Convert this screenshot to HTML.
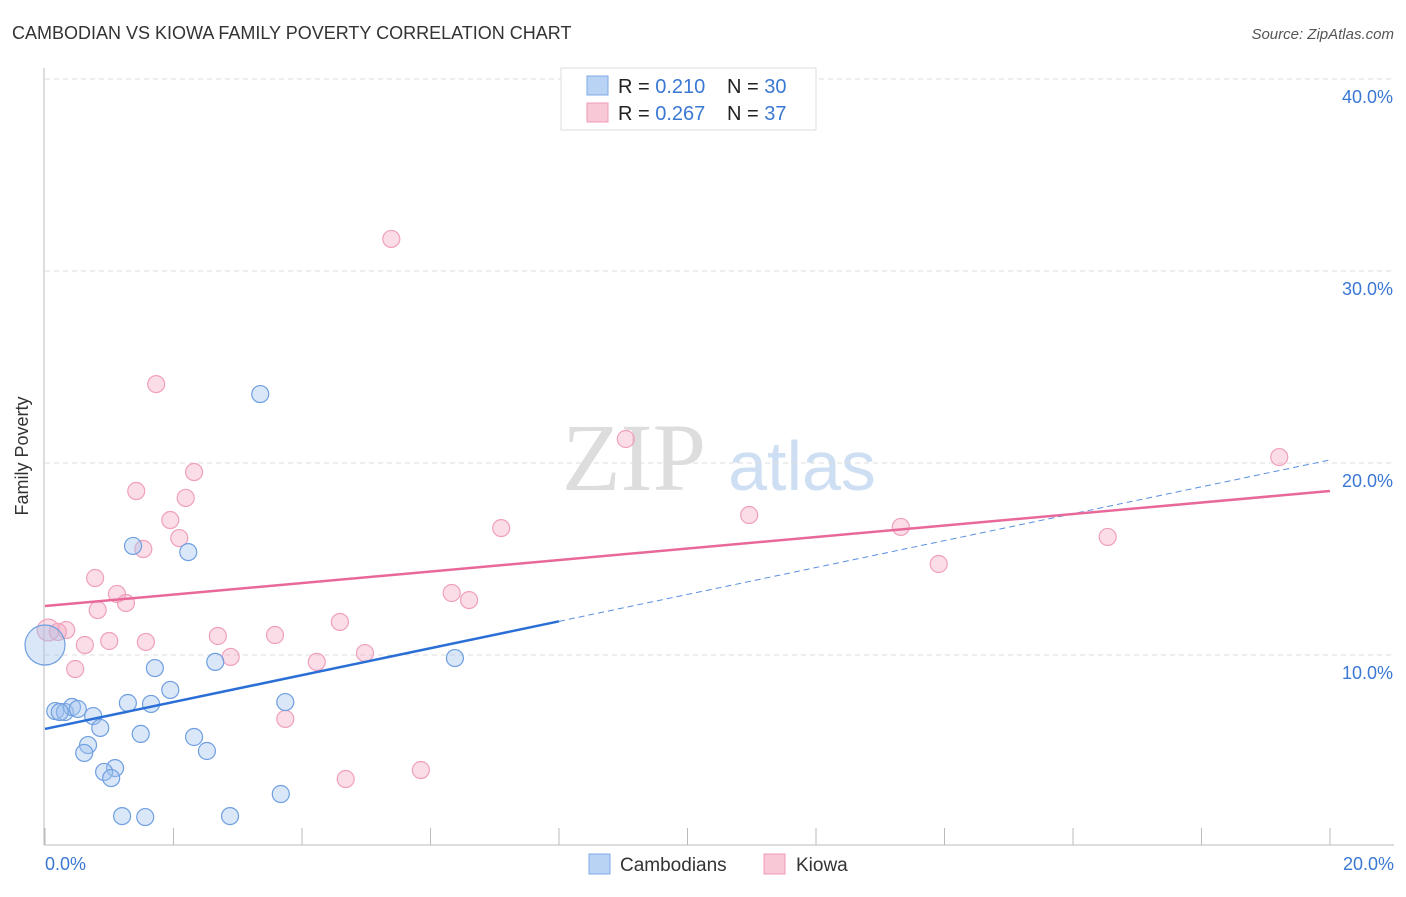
<!DOCTYPE html>
<html><head><meta charset="utf-8"><style>
body{margin:0;background:#fff;font-family:"Liberation Sans",sans-serif}
</style></head><body>
<svg width="1406" height="892" xmlns="http://www.w3.org/2000/svg">
<text x="12" y="39" font-size="18" fill="#333">CAMBODIAN VS KIOWA FAMILY POVERTY CORRELATION CHART</text>
<text x="1394" y="39" font-size="15" fill="#555" font-style="italic" text-anchor="end">Source: ZipAtlas.com</text>
<text x="634" y="490" font-size="96" fill="#ddd" font-family="Liberation Serif" text-anchor="middle">ZIP</text>
<text x="802" y="490" font-size="70" fill="#cfdff3" text-anchor="middle">atlas</text>
<g id="grid"></g>
<line x1="44" y1="68" x2="44" y2="845" stroke="#bbb"/>
<line x1="44" y1="845" x2="1394" y2="845" stroke="#bbb"/>
<g id="ticks"></g>
<text x="28" y="456" font-size="18" fill="#333" text-anchor="middle" transform="rotate(-90 28 456)">Family Poverty</text>
<text x="45" y="870" font-size="18" fill="#3a78d4">0.0%</text>
<text x="1394" y="870" font-size="18" fill="#3a78d4" text-anchor="end">20.0%</text>
<g id="pts"></g>
<g id="trends"></g>
<g>
<rect x="561" y="68" width="255" height="62" fill="#fff" stroke="#ddd"/>
<rect x="587" y="76" width="21" height="19" fill="#b9d3f5" stroke="#7fa9e6"/>
<rect x="587" y="103" width="21" height="19" fill="#f9c8d7" stroke="#f09ab5"/>
<text x="618" y="93" font-size="20" fill="#222">R = <tspan fill="#3a78d4">0.210</tspan><tspan x="727">N = </tspan><tspan fill="#3a78d4">30</tspan></text>
<text x="618" y="120" font-size="20" fill="#222">R = <tspan fill="#3a78d4">0.267</tspan><tspan x="727">N = </tspan><tspan fill="#3a78d4"> 37</tspan></text>
</g>
<g>
<rect x="589" y="854" width="21" height="20" fill="#b9d3f5" stroke="#7fa9e6"/>
<text x="620" y="871" font-size="19" fill="#333">Cambodians</text>
<rect x="764" y="854" width="21" height="20" fill="#f9c8d7" stroke="#f09ab5"/>
<text x="796" y="871" font-size="19" fill="#333">Kiowa</text>
</g>
</svg>
<script>
const blueX=[1.37,2.23,3.35,1.71,2.65,6.38,1.95,1.29,1.65,3.74,0.16,0.31,0.42,0.51,0.75,0.86,0.67,0.61,1.49,2.32,2.52,1.09,0.92,1.03,3.67,1.20,1.56,2.88,0.0,0.23];
const blueY=[15.68,15.36,23.59,9.32,9.64,9.84,8.18,7.50,7.45,7.55,7.08,7.03,7.29,7.19,6.82,6.20,5.31,4.90,5.89,5.73,5.00,4.11,3.91,3.59,2.76,1.61,1.56,1.61,10.52,7.03];
const pinkX=[5.39,1.73,9.04,19.21,2.32,1.42,2.19,1.95,7.10,10.96,13.32,16.54,2.09,1.53,0.78,13.91,1.12,6.33,6.60,1.26,0.82,0.05,0.33,0.20,4.59,2.69,3.58,1.00,0.62,1.57,2.89,4.98,4.23,0.47,3.74,5.85,4.68];
const pinkY=[31.67,24.11,21.25,20.31,19.53,18.54,18.18,17.03,16.61,17.29,16.67,16.15,16.09,15.52,14.01,14.74,13.18,13.23,12.86,12.71,12.34,11.30,11.30,11.20,11.72,10.99,11.04,10.73,10.52,10.68,9.90,10.10,9.64,9.27,6.67,4.01,3.54];
const blueTrend=[6.15,20.16];
const pinkTrend=[12.55,18.54];
const yTicks=[10,20,30,40];
const xTicks=[0,2,4,6,8,10,12,14,16,18,20];
const NS='http://www.w3.org/2000/svg';
const sx=v=>45+v/20*1285, sy=v=>847-v*19.2;
function mk(tag,attrs,parent){const e=document.createElementNS(NS,tag);for(const k in attrs)e.setAttribute(k,attrs[k]);parent.appendChild(e);return e;}
const grid=document.getElementById('grid');
yTicks.forEach(t=>{
 const l=mk('line',{x1:45,x2:1394,y1:sy(t),y2:sy(t),stroke:'#ddd','stroke-dasharray':'5,4'},grid);
 
 
 const tx=mk('text',{x:1393,y:sy(t)+24,'font-size':18,fill:'#3a78d4','text-anchor':'end'},grid);
 tx.textContent=t.toFixed(1)+'%';
 
 
});
const ticks=document.getElementById('ticks');
xTicks.forEach(t=>{
 const l=mk('line',{x1:sx(t),x2:sx(t),y1:828,y2:845,stroke:'#bbb'},ticks);
 
 
});
const pts=document.getElementById('pts');
pinkX.forEach((x,i)=>{
 const c=mk('circle',{cx:sx(x),cy:sy(pinkY[i]),r:(i==21?11:8.5),fill:'rgba(246,170,195,0.4)',stroke:'#f0a0ba','stroke-width':1.2},pts);
 
 
});
blueX.forEach((x,i)=>{
 const c=mk('circle',{cx:sx(x),cy:sy(blueY[i]),r:(i==28?20:8.5),fill:'rgba(160,195,240,0.4)',stroke:'#6f9fe0','stroke-width':1.2},pts);
 
 
});
const tr=document.getElementById('trends');
const by=x=>blueTrend[0]+(blueTrend[1]-blueTrend[0])*x/20;
let l=mk('line',{x1:sx(0),y1:sy(by(0)),x2:sx(8),y2:sy(by(8)),stroke:'#2a6fd6','stroke-width':2.5},tr);


l=mk('line',{x1:sx(8),y1:sy(by(8)),x2:sx(20),y2:sy(by(20)),stroke:'#5b8fe0','stroke-width':1,'stroke-dasharray':'6,4'},tr);


l=mk('line',{x1:sx(0),y1:sy(pinkTrend[0]),x2:sx(20),y2:sy(pinkTrend[1]),stroke:'#e8689a','stroke-width':2.5},tr);


</script>
</body></html>
